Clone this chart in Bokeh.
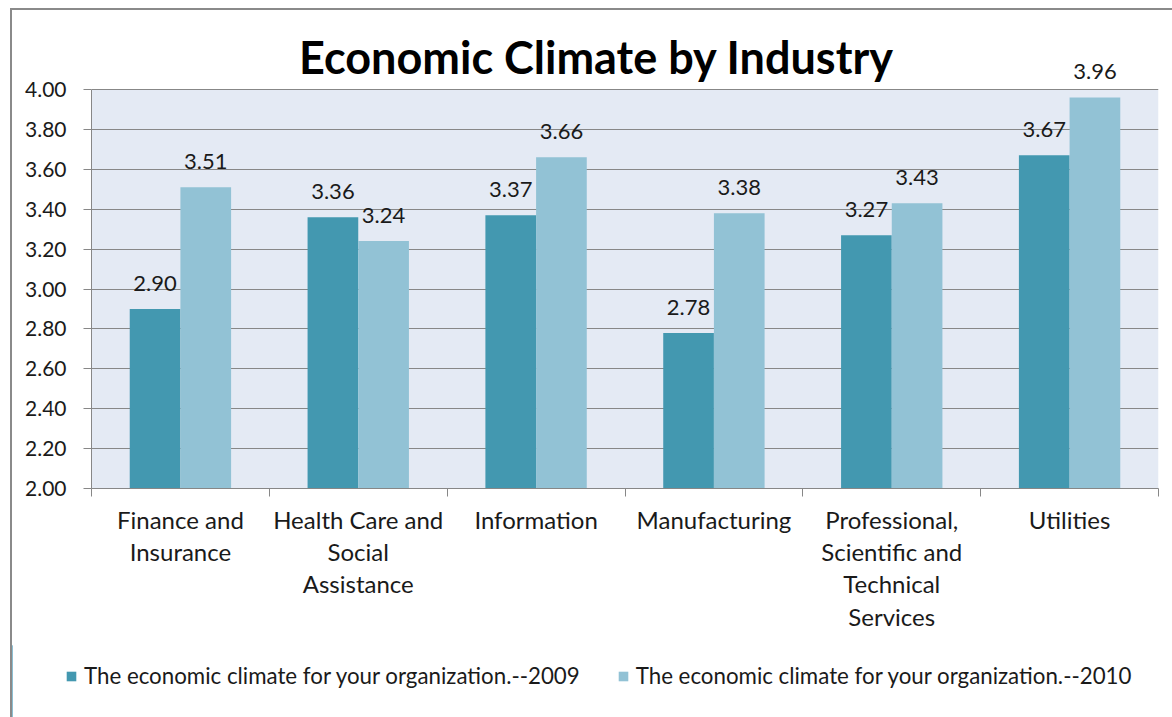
from bokeh.plotting import figure
from bokeh.layouts import column
from bokeh.models import (Range1d, FixedTicker, NumeralTickFormatter, ColumnDataSource,
                          LabelSet, Label, Legend, LegendItem, BoxAnnotation)
from bokeh.core.properties import value
from bokeh.transform import dodge
from bokeh.embed import file_html
from bokeh.resources import INLINE

# ---------------- data ----------------
categories = [
    "Finance and\nInsurance",
    "Health Care and\nSocial\nAssistance",
    "Information",
    "Manufacturing",
    "Professional,\nScientific and\nTechnical\nServices",
    "Utilities",
]
series_names = [
    "The economic climate for your organization.--2009",
    "The economic climate for your organization.--2010",
]
values_2009 = [2.90, 3.36, 3.37, 2.78, 3.27, 3.67]
values_2010 = [3.51, 3.24, 3.66, 3.38, 3.43, 3.96]
y_ticks = [2.00, 2.20, 2.40, 2.60, 2.80, 3.00, 3.20, 3.40, 3.60, 3.80, 4.00]
title_text = "Economic Climate by Industry"

# ---------------- styling / layout ----------------
FONT = "Lato"
DARK = "#4398B0"
LIGHT = "#92C2D5"
GRID = "#878787"
BG = "#E4EAF4"
TXT = "#1a1a1a"
BAR_W = 0.285

# page layout in pixels (page coordinates)
ORIGIN_X, ORIGIN_Y = 12, 10              # inside the chart-area border
FRAME_LEFT, FRAME_RIGHT = 91, 1158       # value axis / right end of plot area
AXIS_TOP, AXIS_BOTTOM = 89, 488          # 4.00 and 2.00
FRAME_TOP = 30                           # frame extends above 4.00 so labels/title fit
TITLE_CX, TITLE_BASE = 596, 56
CHART_BOTTOM = 645                       # where the legend strip begins
LEGEND_LEFT, LEGEND_BOTTOM = 65, 689

W = 1172 - ORIGIN_X
n = len(categories)
y0, y1 = y_ticks[0], y_ticks[-1]
units_per_px = (y1 - y0) / (AXIS_BOTTOM - AXIS_TOP)
y_top = y0 + (AXIS_BOTTOM - FRAME_TOP) * units_per_px
x_per_px = n / (FRAME_RIGHT - FRAME_LEFT)

idx = list(range(n))
src = ColumnDataSource(dict(
    x=idx,
    v09=values_2009,
    v10=values_2010,
    t09=[f"{v:.2f}" for v in values_2009],
    t10=[f"{v:.2f}" for v in values_2010],
))

p = figure(width=W, height=CHART_BOTTOM - ORIGIN_Y,
           x_range=Range1d(-0.5, n - 0.5),
           y_range=Range1d(y0, y_top),
           output_backend="svg", toolbar_location=None,
           min_border_left=FRAME_LEFT - ORIGIN_X, min_border_right=1172 - FRAME_RIGHT,
           min_border_top=FRAME_TOP - ORIGIN_Y, min_border_bottom=CHART_BOTTOM - AXIS_BOTTOM)
p.title.visible = False
p.background_fill_color = "white"
p.border_fill_color = "white"
p.outline_line_color = None

# plot-area background only between 2.00 and 4.00
p.add_layout(BoxAnnotation(bottom=y0, top=y1, left=-0.5, right=n - 0.5,
                           fill_color=BG, fill_alpha=1, line_color=None, level="image"))

# title
p.add_layout(Label(x=-0.5 + (TITLE_CX - FRAME_LEFT) * x_per_px,
                   y=y0 + (AXIS_BOTTOM - TITLE_BASE) * units_per_px,
                   text=title_text, text_align="center", text_baseline="alphabetic",
                   text_font=FONT, text_font_style="bold", text_font_size="45px",
                   text_color="black"))

# bars
r09 = p.vbar(x=dodge("x", -BAR_W / 2, range=p.x_range), top="v09", bottom=y0,
             width=BAR_W, source=src, fill_color=DARK, line_color=None)
r10 = p.vbar(x=dodge("x", BAR_W / 2, range=p.x_range), top="v10", bottom=y0,
             width=BAR_W, source=src, fill_color=LIGHT, line_color=None)

# data labels
for col, tcol, off in (("v09", "t09", -BAR_W / 2), ("v10", "t10", BAR_W / 2)):
    p.add_layout(LabelSet(x=dodge("x", off, range=p.x_range), y=col, text=tcol, source=src,
                          text_align="center", text_baseline="alphabetic", y_offset=18,
                          text_font=value(FONT), text_font_size=value("22px"),
                          text_color=TXT))

# y axis
p.yaxis.ticker = FixedTicker(ticks=y_ticks)
p.yaxis.bounds = (y0, y1)
p.yaxis.formatter = NumeralTickFormatter(format="0.00")
p.yaxis.major_label_text_font = FONT
p.yaxis.major_label_text_font_size = "21px"
p.yaxis.major_label_text_color = TXT
p.yaxis.major_label_standoff = 17
p.yaxis.major_tick_out = 8
p.yaxis.major_tick_in = 0
p.yaxis.minor_tick_line_color = None
p.yaxis.axis_line_color = GRID
p.yaxis.major_tick_line_color = GRID

# x axis: labels at category centres, ticks at category boundaries
p.xaxis.ticker = FixedTicker(ticks=idx, minor_ticks=[i - 0.5 for i in range(n + 1)])
p.xaxis.major_label_overrides = {i: c for i, c in zip(idx, categories)}
p.xaxis.major_label_text_font = FONT
p.xaxis.major_label_text_font_size = "24px"
p.xaxis.major_label_text_color = TXT
p.xaxis.major_label_text_line_height = 1.12
p.xaxis.major_label_standoff = 8
p.xaxis.major_tick_out = 0
p.xaxis.major_tick_in = 0
p.xaxis.minor_tick_out = 8
p.xaxis.minor_tick_in = 0
p.xaxis.minor_tick_line_color = GRID
p.xaxis.axis_line_color = GRID

p.xgrid.grid_line_color = None
p.ygrid.grid_line_color = GRID
p.ygrid.grid_line_width = 1

# ---------------- legend strip ----------------
# The strip shows only the legend; its view range lies beyond the data so the
# swatch renderers (same series data) are not visible themselves.
LEG_H = 717 - CHART_BOTTOM
pl = figure(width=W, height=LEG_H, x_range=Range1d(n + 10, n + 11), y_range=Range1d(0, 1),
            x_axis_type=None, y_axis_type=None,
            output_backend="svg", toolbar_location=None,
            min_border_left=0, min_border_right=0, min_border_top=0, min_border_bottom=0)
pl.title.visible = False
pl.grid.visible = False
pl.outline_line_color = None
pl.background_fill_color = "white"
pl.border_fill_color = "white"
sw09 = pl.vbar(x="x", top="v09", width=BAR_W, source=src, fill_color=DARK, line_color=None)
sw10 = pl.vbar(x="x", top="v10", width=BAR_W, source=src, fill_color=LIGHT, line_color=None)

# keep the strip's frame independent of the chart's frame (no frame alignment)
if "frame_align" in pl.properties():
    pl.frame_align = False
    p.frame_align = False
    leg_x = LEGEND_LEFT - ORIGIN_X
else:
    leg_x = 0

legend = Legend(items=[LegendItem(label=series_names[0], renderers=[sw09], index=0),
                       LegendItem(label=series_names[1], renderers=[sw10], index=0)],
                orientation="horizontal",
                location=(leg_x, 717 - LEGEND_BOTTOM),
                glyph_width=12, glyph_height=12, label_standoff=7, spacing=37,
                padding=0, margin=0, border_line_color=None, background_fill_alpha=0,
                label_text_font=FONT, label_text_font_size="22.3px", label_text_color=TXT)
pl.add_layout(legend, "center")

layout = column(p, pl, spacing=0)
layout.styles = {"margin-left": "10px", "margin-top": "8px",
                 "border-left": "2px solid #8a8a8a", "border-top": "2px solid #8a8a8a"}

open("out.html", "w").write(file_html(layout, INLINE))
